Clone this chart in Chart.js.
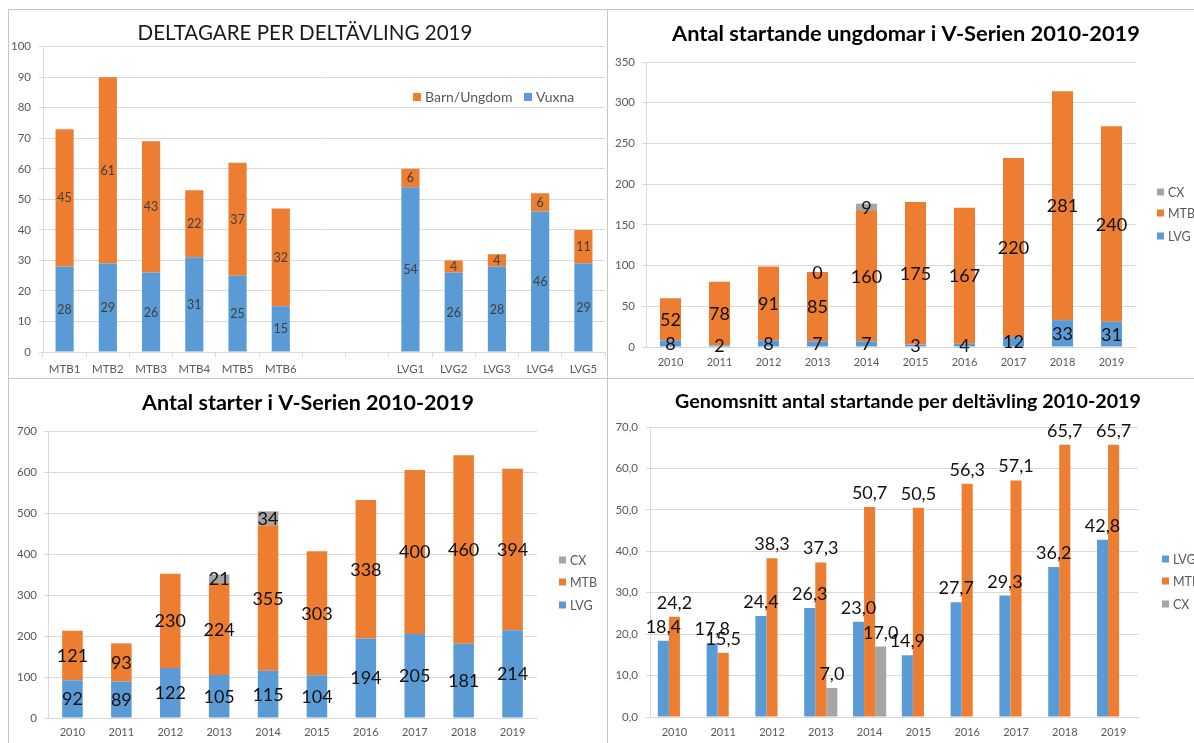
<!DOCTYPE html>
<html><head><meta charset="utf-8">
<script src="https://cdn.jsdelivr.net/npm/chart.js@4.4.0/dist/chart.umd.min.js"></script>
<style>
html,body{margin:0;padding:0;background:#fff;width:1194px;height:743px;overflow:hidden;}
.p{position:absolute;}
.p canvas{display:block;}
.ln{position:absolute;background:#c6c6c6;}
</style></head><body>
<div class="ln" style="left:8px;top:9px;width:1186px;height:1px"></div>
<div class="ln" style="left:8px;top:9px;width:1px;height:734px"></div>
<div class="ln" style="left:607px;top:9px;width:1px;height:734px"></div>
<div class="ln" style="left:8px;top:378px;width:1186px;height:1px"></div>
<div class="p" style="left:9px;top:10px;"><canvas id="c1" width="598" height="368"></canvas></div>
<div class="p" style="left:608px;top:10px;"><canvas id="c2" width="586" height="368"></canvas></div>
<div class="p" style="left:9px;top:379px;"><canvas id="c3" width="598" height="364"></canvas></div>
<div class="p" style="left:608px;top:379px;"><canvas id="c4" width="586" height="364"></canvas></div>
<script>
// ---------- DATA ----------
const p1Categories = ['MTB1','MTB2','MTB3','MTB4','MTB5','MTB6','','','LVG1','LVG2','LVG3','LVG4','LVG5'];
const p1Vuxna = [28,29,26,31,25,15,null,null,54,26,28,46,29];
const p1Barn  = [45,61,43,22,37,32,null,null,6,4,4,6,11];

const years = ['2010','2011','2012','2013','2014','2015','2016','2017','2018','2019'];

const p2LVG = [8,2,8,7,7,3,4,12,33,31];
const p2MTB = [52,78,91,85,160,175,167,220,281,240];
const p2CX  = [null,null,null,0,9,null,null,null,null,null];

const p3LVG = [92,89,122,105,115,104,194,205,181,214];
const p3MTB = [121,93,230,224,355,303,338,400,460,394];
const p3CX  = [null,null,null,21,34,null,null,null,null,null];

const p4LVG = [18.4,17.8,24.4,26.3,23.0,14.9,27.7,29.3,36.2,42.8];
const p4MTB = [24.2,15.5,38.3,37.3,50.7,50.5,56.3,57.1,65.7,65.7];
const p4CX  = [null,null,null,7.0,17.0,null,null,null,null,null];

const p1Title = 'DELTAGARE PER DELTÄVLING 2019';
const p2Title = 'Antal startande ungdomar i V-Serien 2010-2019';
const p3Title = 'Antal starter i V-Serien 2010-2019';
const p4Title = 'Genomsnitt antal startande per deltävling 2010-2019';

// ---------- STYLE ----------
const BLUE='#5B9BD5', ORANGE='#ED7D31', GREY='#A5A5A5';
const FONT='Lato, "Open Sans", sans-serif';
const GRID='#d9d9d9';
Chart.defaults.font.family = FONT;
Chart.defaults.color = '#595959';
const comma = v => v.toFixed(1).replace('.', ',');

const valuePlugin = {
  id:'vals',
  afterDatasetsDraw(chart, args, o){
    const ctx = chart.ctx;
    chart.data.datasets.forEach((ds,i)=>{
      const meta = chart.getDatasetMeta(i);
      meta.data.forEach((el,j)=>{
        const v = ds.data[j];
        if (v === null || v === undefined) return;
        const p = el.getProps(['x','y','base'], true);
        ctx.save();
        ctx.font = o.size + 'px ' + FONT;
        ctx.fillStyle = o.color;
        ctx.textAlign = 'center';
        ctx.textBaseline = 'alphabetic';
        const txt = o.fmt ? o.fmt(v) : String(v);
        const half = o.size * 0.36;
        if (o.mode === 'center') ctx.fillText(txt, p.x, (p.y + p.base)/2 + half);
        else ctx.fillText(txt, p.x, p.y - o.offset);
        ctx.restore();
      });
    });
  }
};

const legendPlugin = {
  id:'leg',
  afterDraw(chart, args, o){
    const ctx = chart.ctx;
    ctx.save();
    ctx.font = o.size + 'px ' + FONT;
    ctx.textBaseline = 'middle';
    ctx.textAlign = 'left';
    o.items.forEach(it=>{
      ctx.fillStyle = it.color;
      ctx.fillRect(it.x, it.y - o.box/2, o.box, o.box);
      ctx.fillStyle = '#595959';
      ctx.fillText(it.text, it.x + o.gap, it.y + 0.5);
    });
    ctx.restore();
  }
};

const titlePlugin = {
  id:'ttl',
  afterDraw(chart, args, o){
    const ctx = chart.ctx;
    ctx.save();
    ctx.font = o.weight + ' 20px ' + FONT;
    const w = ctx.measureText(o.text).width;
    const f = 20 * o.width / w;
    ctx.font = o.weight + ' ' + f.toFixed(2) + 'px ' + FONT;
    ctx.fillStyle = o.color;
    ctx.textAlign = 'center';
    ctx.textBaseline = 'alphabetic';
    ctx.fillText(o.text, o.x, o.y + f*0.36);
    ctx.restore();
  }
};

function build(id, o){
  const cfg = {
    type:'bar',
    data:{labels:o.labels, datasets:o.datasets},
    options:{
      responsive:false, animation:false, devicePixelRatio:1,
      layout:{padding:{left:0, top:o.area.top, right:o.area.right, bottom:0}},
      plugins:{
        legend:{display:false}, tooltip:{enabled:false}, title:{display:false},
        vals:o.vals, leg:o.leg, ttl:o.ttl
      },
      scales:{
        x:{
          stacked:o.stacked,
          grid:{display:true, drawOnChartArea:false, drawTicks:o.xTicks, tickLength:5, color:GRID, offset:true},
          border:{display:true, color:GRID},
          ticks:{font:{size:o.xFont}, color:'#595959', padding:o.xPad, maxRotation:0, autoSkip:false},
          afterFit(s){ s.height = o.area.xh; }
        },
        y:{
          stacked:o.stacked, min:o.y.min, max:o.y.max,
          grid:{color:GRID, drawTicks:true, tickLength:4},
          border:{display:true, color:GRID},
          ticks:{stepSize:o.y.step, font:{size:11.5}, color:'#595959', padding:o.yPad, callback:o.y.cb || (v=>v)},
          afterFit(s){ s.width = o.area.left; }
        }
      }
    },
    plugins:[valuePlugin, legendPlugin, titlePlugin]
  };
  return new Chart(document.getElementById(id), cfg);
}

// Panel 1
build('c1', {
  labels:p1Categories, stacked:true,
  datasets:[
    {label:'Vuxna', data:p1Vuxna, backgroundColor:BLUE, categoryPercentage:1, barPercentage:0.42},
    {label:'Barn/Ungdom', data:p1Barn, backgroundColor:ORANGE, categoryPercentage:1, barPercentage:0.42}
  ],
  area:{left:34, top:36.7, right:2, xh:26},
  xTicks:true, xFont:11.5, xPad:5, yPad:8,
  y:{min:0,max:100,step:10},
  vals:{mode:'center', size:12.5, color:'#404040'},
  leg:{size:14, box:8, gap:12, items:[
    {text:'Barn/Ungdom', color:ORANGE, x:404, y:87},
    {text:'Vuxna', color:BLUE, x:515, y:87}
  ]},
  ttl:{text:p1Title, weight:'normal', width:335, x:296, y:23, color:'#1a1a1a'}
});

// Panel 2
build('c2', {
  labels:years, stacked:true,
  datasets:[
    {label:'LVG', data:p2LVG, backgroundColor:BLUE, categoryPercentage:1, barPercentage:0.43},
    {label:'MTB', data:p2MTB, backgroundColor:ORANGE, categoryPercentage:1, barPercentage:0.43},
    {label:'CX', data:p2CX, backgroundColor:GREY, categoryPercentage:1, barPercentage:0.43}
  ],
  area:{left:38, top:52, right:58, xh:31},
  xTicks:false, xFont:11, xPad:9, yPad:7,
  y:{min:0,max:350,step:50},
  vals:{mode:'center', size:18, color:'#111'},
  leg:{size:12.5, box:7, gap:11, items:[
    {text:'CX', color:GREY, x:549, y:182},
    {text:'MTB', color:ORANGE, x:549, y:203},
    {text:'LVG', color:BLUE, x:549, y:226}
  ]},
  ttl:{text:p2Title, weight:'bold', width:468, x:298, y:23, color:'#000'}
});

// Panel 3
build('c3', {
  labels:years, stacked:true,
  datasets:[
    {label:'LVG', data:p3LVG, backgroundColor:BLUE, categoryPercentage:1, barPercentage:0.42},
    {label:'MTB', data:p3MTB, backgroundColor:ORANGE, categoryPercentage:1, barPercentage:0.42},
    {label:'CX', data:p3CX, backgroundColor:GREY, categoryPercentage:1, barPercentage:0.42}
  ],
  area:{left:39, top:52, right:70, xh:25},
  xTicks:false, xFont:11, xPad:8, yPad:7,
  y:{min:0,max:700,step:100},
  vals:{mode:'center', size:18, color:'#111'},
  leg:{size:12.5, box:7, gap:11, items:[
    {text:'CX', color:GREY, x:550, y:181},
    {text:'MTB', color:ORANGE, x:550, y:203},
    {text:'LVG', color:BLUE, x:550, y:226}
  ]},
  ttl:{text:p3Title, weight:'bold', width:332, x:299, y:23, color:'#000'}
});

// Panel 4
build('c4', {
  labels:years, stacked:false,
  datasets:[
    {label:'LVG', data:p4LVG, backgroundColor:BLUE, categoryPercentage:0.68, barPercentage:1},
    {label:'MTB', data:p4MTB, backgroundColor:ORANGE, categoryPercentage:0.68, barPercentage:1},
    {label:'CX', data:p4CX, backgroundColor:GREY, categoryPercentage:0.68, barPercentage:1}
  ],
  area:{left:42, top:48, right:56, xh:26},
  xTicks:false, xFont:11, xPad:9, yPad:8,
  y:{min:0,max:70,step:10, cb:v=>comma(v)},
  vals:{mode:'end', size:18, color:'#111', offset:8, fmt:comma},
  leg:{size:12.5, box:7, gap:11, items:[
    {text:'LVG', color:BLUE, x:554, y:180},
    {text:'MTB', color:ORANGE, x:554, y:202},
    {text:'CX', color:GREY, x:554, y:225}
  ]},
  ttl:{text:p4Title, weight:'bold', width:466, x:300, y:22, color:'#000'}
});
</script>
</body></html>
